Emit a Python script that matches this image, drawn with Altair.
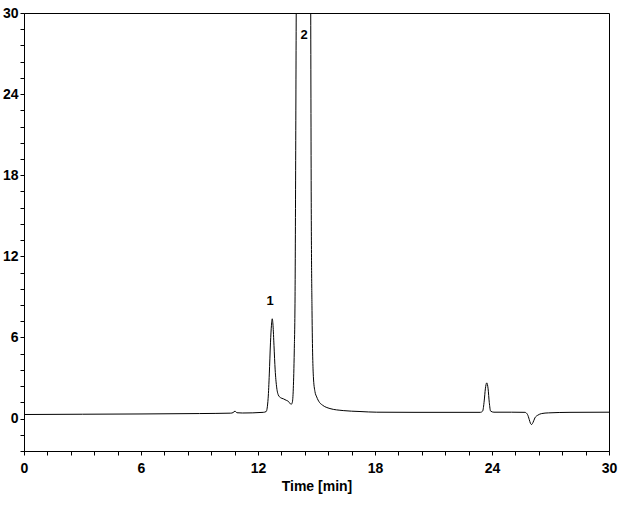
import altair as alt
import pandas as pd

# Chromatogram trace: time [min] and signal
time = [0.0, 3.0, 6.0, 9.0, 10.6, 10.72, 10.82, 10.92, 11.2, 12.27, 12.42,
        12.52, 12.58, 12.64, 12.69, 12.73, 12.77, 12.82, 12.88, 12.95, 13.04,
        13.15, 13.30, 13.45, 13.55, 13.64, 13.70, 13.76, 13.81, 13.86, 13.90,
        13.96, 14.05, 14.20, 14.33, 14.48, 14.62, 14.70, 14.73, 14.77, 14.84,
        14.92, 15.01, 15.15, 15.30, 15.69, 16.37, 17.23, 18.09, 20.0, 22.0,
        23.40, 23.52, 23.60, 23.66, 23.73, 23.80, 23.86, 23.93, 24.10, 25.0,
        25.69, 25.82, 25.91, 25.97, 26.03, 26.10, 26.20, 26.35, 26.55, 26.89,
        28.0, 30.0]
signal = [0.30, 0.32, 0.34, 0.37, 0.40, 0.44, 0.55, 0.43, 0.41, 0.46, 0.52,
          1.5, 3.3, 5.6, 6.9, 7.38, 6.9, 5.4, 3.6, 2.4, 1.75,
          1.55, 1.46, 1.35, 1.28, 1.12, 1.05, 1.2, 2.2, 5.0, 9.0,
          30.0, 62.0, 88.0, 95.0, 88.0, 60.0, 32.0, 16.0, 8.0, 3.1,
          2.0, 1.6, 1.2, 1.0, 0.74, 0.59, 0.52, 0.47, 0.46, 0.46,
          0.46, 0.55, 1.3, 2.2, 2.64, 2.2, 1.2, 0.55, 0.47, 0.47,
          0.46, 0.3, -0.07, -0.35, -0.44, -0.3, 0.05, 0.25, 0.37, 0.42,
          0.46, 0.47]

peak_labels = ["1", "2"]
peak_label_time = [12.62, 14.36]
peak_label_y = [8.7, 28.4]

x_ticks = [round(i * 1.2, 1) for i in range(26)]
y_ticks = [round(-2.4 + i * 1.2, 1) for i in range(28)]

trace = pd.DataFrame({"t": time, "s": signal})
labels = pd.DataFrame({"t": peak_label_time, "s": peak_label_y, "lab": peak_labels})

label_expr = "abs(datum.value/6 - round(datum.value/6)) < 0.001 ? format(datum.value, '.0f') : ''"


def x_axis():
    return alt.Axis(values=x_ticks, labelExpr=label_expr, title="Time [min]",
                    grid=False, tickSize=4, labelPadding=6, labelFlush=False,
                    labelOverlap=False, labelBound=False, titlePadding=4)


def y_axis():
    return alt.Axis(values=y_ticks, labelExpr=label_expr, title=None,
                    grid=False, tickSize=4, labelPadding=2, labelOverlap=False,
                    labelBound=False)


xs = alt.Scale(domain=[0, 30], nice=False, zero=False)
ys = alt.Scale(domain=[-2.4, 30], nice=False, zero=False)

line = alt.Chart(trace).mark_line(color="black", strokeWidth=1, clip=True,
                                  interpolate="monotone").encode(
    x=alt.X("t:Q", scale=xs, axis=x_axis(), title="Time [min]"),
    y=alt.Y("s:Q", scale=ys, axis=y_axis(), title=None),
    order="t:Q",
)

text = alt.Chart(labels).mark_text(font="Liberation Sans", fontWeight="bold",
                                   fontSize=13, color="black").encode(
    x=alt.X("t:Q", scale=xs, axis=x_axis(), title="Time [min]"),
    y=alt.Y("s:Q", scale=ys, axis=y_axis(), title=None),
    text="lab:N")

chart = alt.layer(line, text).properties(
    width=585, height=438,
    autosize=alt.AutoSizeParams(type="none"),
    padding={"left": 24, "top": 13, "right": 12, "bottom": 58},
    background="white",
).configure_view(stroke="black", strokeWidth=1).configure_axis(
    domainColor="black", tickColor="black", labelColor="black", titleColor="black",
    labelFont="Liberation Sans", titleFont="Liberation Sans",
    labelFontSize=14, titleFontSize=14, labelFontWeight="bold", titleFontWeight="bold",
    labelOverlap=False,
)

chart.save("out.html", embed_options={"renderer": "svg", "actions": False})
